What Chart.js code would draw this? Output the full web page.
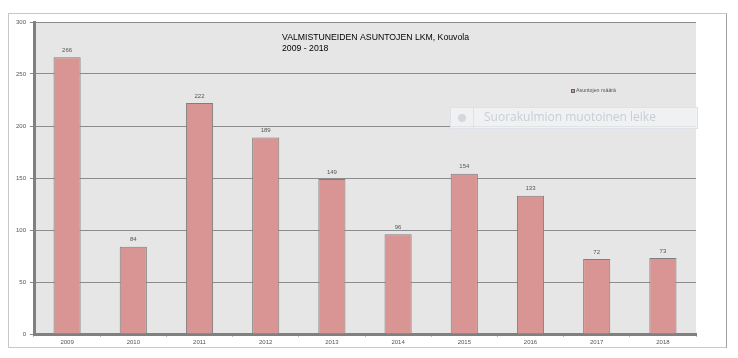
<!DOCTYPE html>
<html>
<head>
<meta charset="utf-8">
<script src="https://cdn.jsdelivr.net/npm/chart.js@4"></script>
<style>
  body { margin: 0; background: #fff; }
  #wrap { position: relative; width: 738px; height: 358px; }
  #frame { position: absolute; left: 8px; top: 13px; width: 717px; height: 333px; border: 1px solid #c8c8c8; border-right-color: #a0a0a0; }
  #leike { position: absolute; left: 450px; top: 107px; width: 246px; height: 20px; background: rgba(240,242,245,0.85); border: 1px solid #dde2e8; font-family: "Open Sans", sans-serif; font-size: 12px; color: #c9ced6; line-height: 20px; }
  #leike .ico { position: absolute; left: 0; top: 0; width: 22px; height: 20px; border-right: 1px solid #dde2e8; }
  #leike .ico::after { content: ""; position: absolute; left: 7px; top: 6px; width: 8px; height: 8px; border-radius: 50%; background: #d4d8de; }
  #leike span { position: absolute; left: 33px; top: -1px; }
  canvas { position: absolute; left: 0; top: 0; }
</style>
</head>
<body>
<div id="wrap">
  <div id="frame"></div>
  <canvas id="chart" width="738" height="358"></canvas>
  <div id="leike"><div class="ico"></div><span>Suorakulmion muotoinen leike</span></div>
</div>
<script>
const vuodet = ["2009", "2010", "2011", "2012", "2013", "2014", "2015", "2016", "2017", "2018"];
const asuntoja = [266, 84, 222, 189, 149, 96, 154, 133, 72, 73];
const otsikko = ["VALMISTUNEIDEN ASUNTOJEN LKM, Kouvola", "2009 - 2018"];
const sarjanNimi = "Asuntojen määrä";

// harmaa tausta piirtoalueelle
const tausta = {
  id: "tausta",
  beforeDraw(chart) {
    const c = chart.ctx, a = chart.chartArea;
    c.save();
    c.fillStyle = "#e6e6e6";
    c.fillRect(a.left, a.top, a.right - a.left, a.bottom - a.top);
    c.restore();
  }
};

// arvot pylväiden päälle, otsikko ja selite
const tekstit = {
  id: "tekstit",
  afterDraw(chart) {
    const c = chart.ctx;
    c.save();
    c.fillStyle = "#555";
    c.font = "6px 'Liberation Sans', Arial";
    c.textAlign = "center";
    c.textBaseline = "bottom";
    chart.getDatasetMeta(0).data.forEach((bar, i) => {
      c.fillText(asuntoja[i], bar.x, bar.y - 4);
    });
    c.fillStyle = "#000";
    c.font = "8.7px 'Liberation Sans', Arial";
    c.textAlign = "left";
    c.textBaseline = "middle";
    c.fillText(otsikko[0], 282, 38);
    c.fillText(otsikko[1], 282, 49);
    // selite
    c.fillStyle = "#d99594";
    c.strokeStyle = "#666";
    c.lineWidth = 1;
    c.fillRect(571.5, 89.5, 3, 3);
    c.strokeRect(571.5, 89.5, 3, 3);
    c.fillStyle = "#555";
    c.font = "5.3px 'Liberation Sans', Arial";
    c.fillText(sarjanNimi, 576, 91);
    c.restore();
  }
};

new Chart(document.getElementById("chart"), {
  type: "bar",
  data: {
    labels: vuodet,
    datasets: [{
      label: sarjanNimi,
      data: asuntoja,
      backgroundColor: "#d99594",
      borderColor: "#7f7f7f",
      borderWidth: 1,
      categoryPercentage: 1,
      barPercentage: 0.41
    }]
  },
  options: {
    responsive: false,
    animation: false,
    layout: { padding: { left: 10, top: 22, right: 42, bottom: 10 } },
    plugins: { legend: { display: false }, tooltip: { enabled: false } },
    scales: {
      x: {
        afterFit: (ax) => { ax.height = 14; },
        grid: { display: true, drawOnChartArea: false, tickLength: 3, color: "#bbb", offset: true },
        border: { display: true, color: "#808080", width: 3 },
        ticks: { color: "#555", font: { size: 6, family: "'Liberation Sans', Arial" }, padding: 2 }
      },
      y: {
        min: 0, max: 300,
        afterFit: (ax) => { ax.width = 24; },
        grid: { color: "#8c8c8c", lineWidth: 1, tickLength: 4, drawTicks: true },
        border: { display: true, color: "#808080", width: 3 },
        ticks: { stepSize: 50, color: "#555", font: { size: 6, family: "'Liberation Sans', Arial" }, padding: 4 }
      }
    }
  },
  plugins: [tausta, tekstit]
});
</script>
</body>
</html>
